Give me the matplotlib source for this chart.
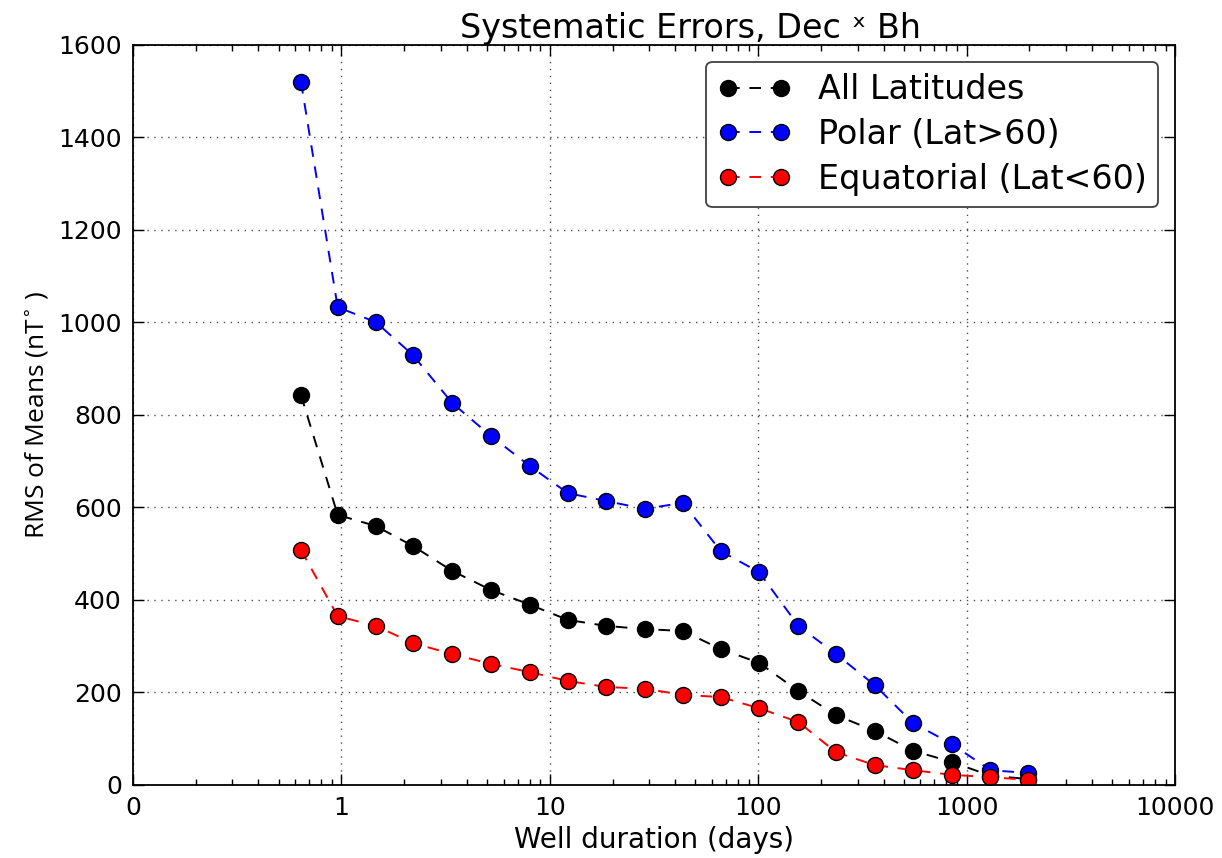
import matplotlib
import numpy as np

matplotlib.use("Agg")
import matplotlib.pyplot as plt  # noqa: E402
import matplotlib.ticker as mticker  # noqa: E402

# well durations (days) and RMS of means for each latitude band
durations = [0.64, 0.96, 1.46, 2.2, 3.4, 5.2, 8.0, 12.2, 18.6, 28.5,
             43.5, 66, 101, 156, 236, 362, 553, 846, 1300, 1970]
all_lat = [843, 584, 560, 517, 463, 422, 390, 357, 344, 337,
           333, 294, 264, 203, 151, 117, 74, 50, 20, 13]
polar = [1520, 1033, 1001, 930, 826, 755, 690, 631, 614, 597,
         610, 506, 460, 344, 283, 216, 134, 89, 32, 26]
equatorial = [508, 365, 344, 307, 283, 262, 244, 225, 212, 208,
              195, 190, 166, 136, 71, 43, 32, 22, 17, 11]

x_ticks = [0.1, 1, 10, 100, 1000, 10000]
y_ticks = list(range(0, 1601, 200))

_SERIES = (
    ("All Latitudes", all_lat, "black"),
    ("Polar (Lat>60)", polar, "blue"),
    ("Equatorial (Lat<60)", equatorial, "red"),
)

fig = plt.figure(figsize=(12.22, 8.58), dpi=100)
ax = fig.add_axes([0.1088, 0.0851, 0.8528, 0.8625])

for label, vals, col in _SERIES:
    ax.plot(durations, vals, linestyle="--", dashes=(6, 5), color=col,
            linewidth=1.4, marker="o", markersize=11.5,
            markerfacecolor=col, markeredgecolor="black",
            markeredgewidth=1.0, label=label)

ax.set_xscale("log")
ax.set_xlim(0.1, 10000)
ax.set_ylim(0, 1600)
ax.set_xticks(x_ticks)
ax.xaxis.set_major_formatter(mticker.FuncFormatter(lambda v, _: "%d" % v))
ax.set_yticks(y_ticks)

ax.tick_params(which="both", direction="in", top=True, right=True,
               labelsize=18, width=1)
ax.tick_params(which="major", length=8, pad=8)
ax.tick_params(which="minor", length=4)
for s in ax.spines.values():
    s.set_linewidth(1.3)

ax.grid(True, which="major", linestyle=(0, (1, 4)), color="black",
        linewidth=1.0, alpha=0.7)

ax.set_xlabel("Well duration (days)", fontsize=20, labelpad=4)
ax.set_ylabel("RMS of Means (nT$^{\\circ}$ )", fontsize=19,
              family="Open Sans", labelpad=6)
# title sits a little right of centre in the original
ax.set_title("Systematic Errors, Dec \u02e3 Bh", fontsize=24, pad=5, x=0.535)

leg = ax.legend(loc="upper right", numpoints=2, fontsize=24,
                fancybox=True, framealpha=1, edgecolor="0.25",
                handlelength=2.2, borderpad=0.35, labelspacing=0.35)
leg.get_frame().set_linewidth(1.3)

fig.savefig("out.png", dpi=100)
plt.close(fig)
